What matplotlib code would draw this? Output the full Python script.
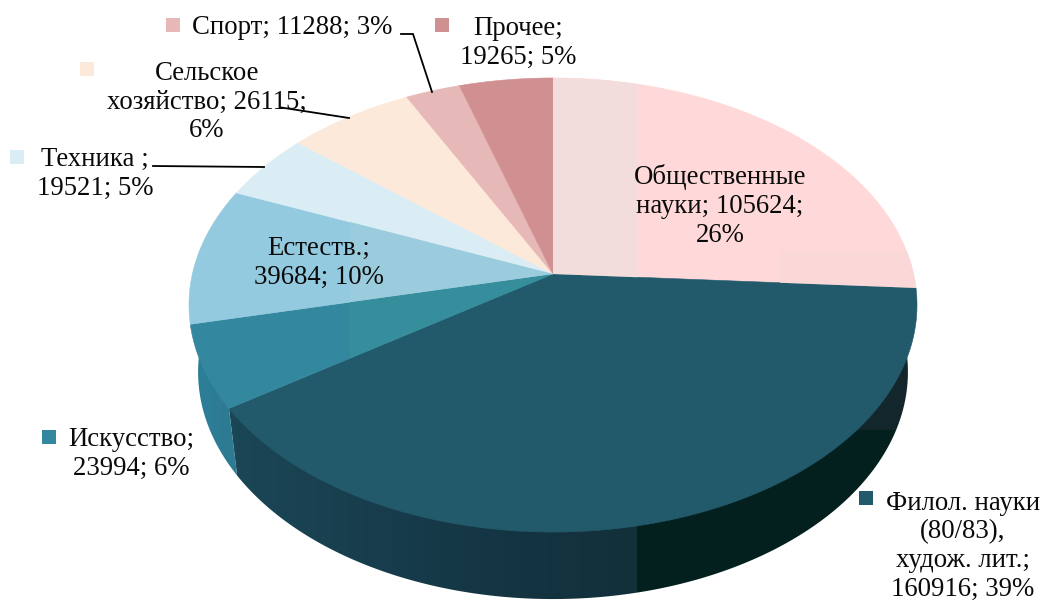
import numpy as np
import matplotlib
matplotlib.use("Agg")
import matplotlib.pyplot as plt
from matplotlib.patches import Polygon, Rectangle
from matplotlib.colors import to_rgb

plt.rcParams['font.family'] = ['Liberation Serif', 'DejaVu Serif']

# ---- data (clockwise from 12 o'clock)
values = [105624, 160916, 23994, 39684, 19521, 26115, 11288, 19265]
labels = ["Общественные\nнауки; 105624;\n26%",
          "Филол. науки\n(80/83),\nхудож. лит.;\n160916; 39%",
          "Искусство;\n23994; 6%",
          "Естеств.;\n39684; 10%",
          "Техника ;\n19521; 5%",
          "Сельское\nхозяйство; 26115;\n6%",
          "Спорт; 11288; 3%",
          "Прочее;\n19265; 5%"]
colors = ['#FFD9D9', '#235A6B', '#33879F', '#93CADF', '#DAEDF5', '#FDE9DA', '#E6B8B7', '#D09092']

# ---- label layout (centre x, centre y)
label_pos = [(720, 206), (963, 546), (131, 454), (319, 263), (95, 174), (207, 102), (292, 28), (518, 43)]
key_pos = [None, (866, 498), (49, 437), None, (17, 157), (87, 69), (173, 25), (442, 25)]
leaders = [([153, 264], [166, 167]), ([281, 349], [107.5, 118]), ([401, 413, 432], [34, 34, 92])]

# ---- tile-like tints of the source rendering: wedge -> (x0, y0, x1, y1, colour)
tints = {0: [(500, 0, 637, 400, '#F3DDDC'), (780, 250, 950, 400, '#FBD8D8')],
         2: [(350, 250, 640, 450, '#368D9B')],
         3: [(350, 200, 640, 330, '#9ACCDD')]}

CX, CY, K = 553.0, 274.0, 0.1366
A, B = 222.8, 360.6
DEPTH, SHRINK = 67.0, 0.975
ISK_SIDE_END = np.deg2rad(266)


def rim(t, lower=False):
    """Perspective projection of a circle at clockwise angle t (radians)."""
    X, Y = np.sin(t), np.cos(t)
    d = 1 + K * Y
    x, y = B * X / d, A * Y / d
    if lower:
        return CX + SHRINK * x, CY - y + DEPTH
    return CX + x, CY - y


fig = plt.figure(figsize=(10.43, 6.02), dpi=100)
ax = fig.add_axes([0, 0, 1, 1])

v = np.asarray(values, float)
edges = np.concatenate([[0], np.cumsum(v) / v.sum()]) * 2 * np.pi


def ramp(xs, stops_x, stops_c):
    rgb = np.array([to_rgb(c) for c in stops_c])
    return np.stack([np.interp(xs, stops_x, rgb[:, k]) for k in range(3)], axis=-1)


xs = np.arange(1043) + 0.5
ys = np.arange(602) + 0.5
# Philology side shading
phil = np.repeat(ramp(xs, [237, 520, 637], ['#1B4656', '#143442', '#12303A'])[None, :, :], 602, axis=0)
phil[:, xs >= 637] = to_rgb('#03201F')
phil[np.ix_(ys < 430, xs >= 780)] = to_rgb('#13262C')
# Art side shading
isk = np.repeat(ramp(xs, [195, 237], ['#2C7F99', '#2E7A91'])[None, :, :], 602, axis=0)

side_parts = [(phil, edges[1], edges[2], edges[2]), (isk, edges[2], ISK_SIDE_END, edges[2])]
for img, t0, t1, anchor in side_parts:
    lx, ly = rim(np.linspace(t0, t1, 300), lower=True)
    tx, ty = rim(np.array([anchor]))
    poly = Polygon(np.c_[np.r_[lx, tx], np.r_[ly, ty]], closed=True, transform=ax.transData,
                   fc='none', ec='none')
    im = ax.imshow(img, extent=(0, 1043, 602, 0), aspect='auto', interpolation='nearest', zorder=2)
    im.set_clip_path(poly)

ax.set_xlim(0, 1043)
ax.set_ylim(602, 0)
ax.axis('off')

# top faces
for i, col in enumerate(colors):
    ts = np.linspace(edges[i], edges[i + 1], 200)
    x, y = rim(ts)
    pts = np.c_[np.r_[CX, x], np.r_[CY, y]]
    ax.add_patch(Polygon(pts, closed=True, fc=col, ec=col, lw=0.4, zorder=3))
    for (x0, y0, x1, y1, tint) in tints.get(i, []):
        r = Rectangle((x0, y0), x1 - x0, y1 - y0, fc=tint, ec='none', zorder=3.5)
        ax.add_patch(r)
        r.set_clip_path(Polygon(pts, closed=True, transform=ax.transData))

# leader lines
for lx, ly in leaders:
    ax.plot(lx, ly, color='black', lw=1.3, zorder=5, solid_joinstyle='miter')

# legend keys and labels
for col, key in zip(colors, key_pos):
    if key is not None:
        ax.add_patch(Rectangle((key[0] - 7, key[1] - 7), 14, 14, fc=col, ec='none', zorder=6))
for text, (lx, ly) in zip(labels, label_pos):
    ax.text(lx, ly, text, ha='center', va='center', ma='center', fontsize=19.3,
            linespacing=1.19, color='#0A0A0A', zorder=7)

fig.savefig('out.png', dpi=100, facecolor='white')
